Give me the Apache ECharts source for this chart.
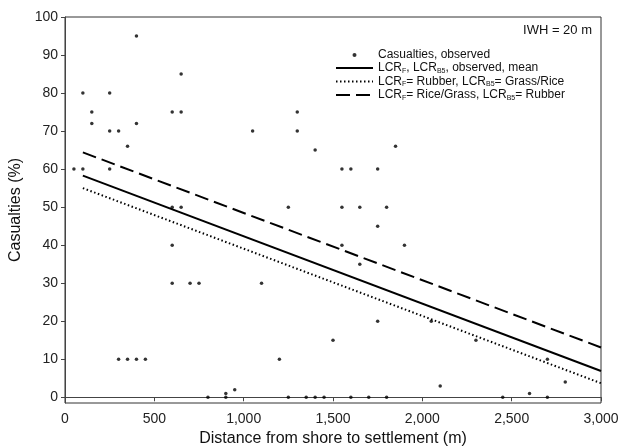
<!DOCTYPE html>
<html>
<head>
<meta charset="utf-8">
<script src="https://cdn.jsdelivr.net/npm/echarts@6/dist/echarts.min.js"></script>
<style>
  html, body { margin: 0; padding: 0; background: #fff; }
  #chart { width: 618px; height: 446px; }
</style>
</head>
<body>
<div id="chart"></div>
<script>
// observed casualties (distance in m, casualties in %)
const obsDistance = [
  400, 100, 250, 650, 150, 600, 650, 150, 400, 250, 300, 350, 50, 100, 250,
  600, 650, 600, 600, 700, 750, 300, 350, 400, 450, 800, 900, 900, 950,
  1300, 1050, 1300, 1400, 1850, 1550, 1600, 1750, 1250, 1550, 1650, 1800,
  1750, 1550, 1900, 1650, 1100, 1750, 1500, 1200,
  1250, 1350, 1400, 1450, 1600, 1700, 1800,
  2050, 2300, 2700, 2100, 2800, 2450, 2600, 2700
];
const obsCasualty = [
  95, 80, 80, 85, 75, 75, 75, 72, 72, 70, 70, 66, 60, 60, 60,
  50, 50, 40, 30, 30, 30, 10, 10, 10, 10, 0, 1, 0, 2,
  75, 70, 70, 65, 66, 60, 60, 60, 50, 50, 50, 50,
  45, 40, 40, 35, 30, 20, 15, 10,
  0, 0, 0, 0, 0, 0, 0,
  20, 15, 10, 3, 4, 0, 1, 0
];

// regression lines, start and end
const lineX = [100, 3000];
const meanLine = [58.3, 6.9];
const rubberLine = [55.0, 3.7];
const riceLine = [64.4, 13.1];

const xTicks = [0, 500, 1000, 1500, 2000, 2500, 3000];
const yTicks = [0, 10, 20, 30, 40, 50, 60, 70, 80, 90, 100];

const seriesNames = [
  "Casualties, observed",
  "LCR_F, LCR_B5, observed, mean",
  "LCR_F= Rubber, LCR_B5= Grass/Rice",
  "LCR_F= Rice/Grass, LCR_B5= Rubber"
];

const pairs = (xs, ys) => xs.map((x, i) => [x, ys[i]]);

const chart = echarts.init(document.getElementById("chart"));

const axisText = { color: "#222", fontSize: 14, fontFamily: "Liberation Sans, Arial, sans-serif" };

const option = {
  animation: false,
  textStyle: { fontFamily: "Liberation Sans, Arial, sans-serif" },
  title: {
    text: "IWH = 20 m",
    right: 21,
    top: 19,
    textStyle: { fontSize: 13, fontWeight: "normal", color: "#111" }
  },
  legend: {
    orient: "vertical",
    left: 330,
    top: 44,
    itemWidth: 37,
    itemHeight: 4,
    itemGap: 1,
    // line icons only show the stroke, not a symbol
    data: seriesNames.map((n, i) => (i === 0 ? { name: n } : { name: n, itemStyle: { opacity: 0 } })),
    textStyle: {
      fontSize: 12,
      color: "#111",
      rich: {
        s: { fontSize: 7, padding: [6, 0, 0, 0], color: "#111" }
      }
    },
    formatter: (name) => name.replace(/LCR_(\w+)/g, "LCR{s|$1}")
  },
  grid: {
    left: 65,
    right: 17,
    top: 17,
    bottom: 43,
    outerBoundsMode: "none",
    show: true,
    borderColor: "#333",
    borderWidth: 1
  },
  xAxis: {
    type: "value",
    min: 0,
    max: 3000,
    name: "Distance from shore to settlement (m)",
    nameLocation: "middle",
    nameGap: 26,
    nameTextStyle: { fontSize: 16, color: "#111" },
    axisLine: { show: true, lineStyle: { color: "#444" } },
    axisTick: { show: true, length: 4, customValues: xTicks, lineStyle: { color: "#444" } },
    axisLabel: {
      ...axisText,
      margin: 9,
      customValues: xTicks,
      formatter: (v) => v.toLocaleString("en-US")
    },
    splitLine: { show: false }
  },
  yAxis: {
    type: "value",
    min: -1.5,
    max: 100,
    name: "Casualties (%)",
    nameLocation: "middle",
    nameGap: 33,
    nameTextStyle: { fontSize: 16, color: "#111" },
    axisLine: { show: true, lineStyle: { color: "#444" } },
    axisTick: { show: true, length: 4, customValues: yTicks, lineStyle: { color: "#444" } },
    axisLabel: { ...axisText, margin: 7, customValues: yTicks },
    splitLine: { show: false }
  },
  series: [
    {
      name: seriesNames[0],
      type: "scatter",
      symbol: "circle",
      symbolSize: 3.5,
      itemStyle: { color: "#000" },
      data: pairs(obsDistance, obsCasualty)
    },
    {
      name: seriesNames[1],
      type: "line",
      symbol: "none",
      lineStyle: { color: "#000", width: 2, type: "solid" },
      itemStyle: { color: "#000" },
      data: pairs(lineX, meanLine)
    },
    {
      name: seriesNames[2],
      type: "line",
      symbol: "none",
      lineStyle: { color: "#000", width: 2, type: [1.5, 2.5] },
      itemStyle: { color: "#000" },
      data: pairs(lineX, rubberLine)
    },
    {
      name: seriesNames[3],
      type: "line",
      symbol: "none",
      lineStyle: { color: "#000", width: 2, type: [14, 6] },
      itemStyle: { color: "#000" },
      data: pairs(lineX, riceLine)
    }
  ]
};

chart.setOption(option);
</script>
</body>
</html>
